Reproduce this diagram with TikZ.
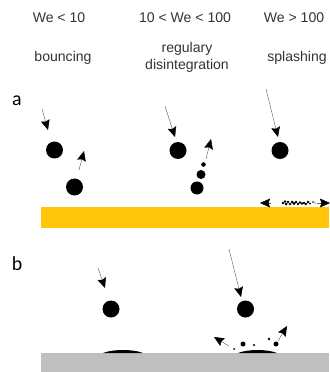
\documentclass[tikz,border=0pt]{standalone}
\usepackage{fontspec}
\setmainfont{Liberation Sans}
\newfontfamily\panelfont{Carlito}
\usetikzlibrary{arrows.meta}
\definecolor{wetyellow}{HTML}{FFC60B}
\definecolor{drygray}{HTML}{BFBFBF}

\begin{document}
\begin{tikzpicture}[
  x=0.3mm, y=-0.3mm,
  label/.style={font=\fontsize{12}{14}\selectfont, color=black!80, align=center, inner sep=0pt},
  panel/.style={font=\panelfont\fontsize{17}{19}\selectfont, inner sep=0pt},
  drop/.style={circle, fill=black, inner sep=0pt, minimum size=#1*0.6mm},
  arrow/.style={-{Stealth[length=8.5pt, width=7.5pt, inset=1.2pt, black]}, thin, color=black!60}
]
  \useasboundingbox (0,0) rectangle (329,372);

  % Regime headers
  \node[label] (low) at (59,18) {We < 10};
  \node[label] (mid) at (185,18) {10 < We < 100};
  \node[label] (high) at (294,18) {We > 100};
  \node[label] (bouncing) at (63,58) {bouncing};
  \node[label] (regular) at (187,57.5) {regulary\\disintegration};
  \node[label] (splashing) at (297,58) {splashing};
  \node[panel] (a) at (17,101) {a};
  \node[panel] (b) at (17,264) {b};

  % Substrates
  \fill[wetyellow] (41,207) rectangle (329,228);
  \fill[drygray] (41,353) rectangle (329,372);

  % Droplets on the wet wall
  \node[drop=8.5] (d1) at (54.5,150) {};
  \node[drop=8.5] (d2) at (74.5,187) {};
  \node[drop=8.5] (d3) at (178,150.5) {};
  \node[drop=6.5] (d4) at (197,188) {};
  \node[drop=4.5] (d5) at (201,174.5) {};
  \node[drop=2.3] (d6) at (203.5,164.5) {};
  \node[drop=8.5] (d7) at (280,150.5) {};

  % Crown of fine spray
  \foreach \x/\y/\r in {283/203/1.4, 285/201.5/1.4, 286/204/1.5, 288/202/1.4, 290/204/1.3, 292/202/1.5,
    294/203.5/1.6, 296/202/1.3, 298/204/1.4, 300/202.5/1.3, 302/203.5/1.4, 304/203/1.3, 306/204/1.3,
    308/202/1.3, 310/203.5/1.2, 313/202/0.9, 315/203/0.7}
    \fill (\x,\y) circle[radius=\r];

  % Motion on the wet wall
  \draw[arrow] (42,109) -- (48,130);
  \draw[arrow] (79,170) -- (84,151);
  \draw[arrow] (165,106) -- (175,137);
  \draw[arrow] (206,159) -- (211,139);
  \draw[arrow] (266,89) -- (278,137);
  \draw[arrow] (271,203) -- (260,203);
  \draw[arrow] (317,203) -- (330,203);

  % Droplets on the dry wall
  \node[drop=8.5] (e1) at (111,309) {};
  \node[drop=8.5] (e2) at (245.5,309) {};
  \fill (103,353) .. controls (113,349) and (133,349) .. (143,353) -- cycle;
  \fill (238,353) .. controls (248,349) and (267,349) .. (277,353) -- cycle;
  \node[drop=1] (s1) at (234,349) {};
  \node[drop=2.5] (s2) at (243,344) {};
  \node[drop=1.2] (s3) at (254,345) {};
  \node[drop=1.3] (s4) at (269,339) {};
  \node[drop=2.5] (s5) at (276,344) {};

  % Motion on the dry wall
  \draw[arrow] (98,268) -- (105,288);
  \draw[arrow] (229,249) -- (241,297);
  \draw[arrow] (229,346) -- (214,337);
  \draw[arrow] (278,341) -- (287,326);
\end{tikzpicture}
\end{document}
